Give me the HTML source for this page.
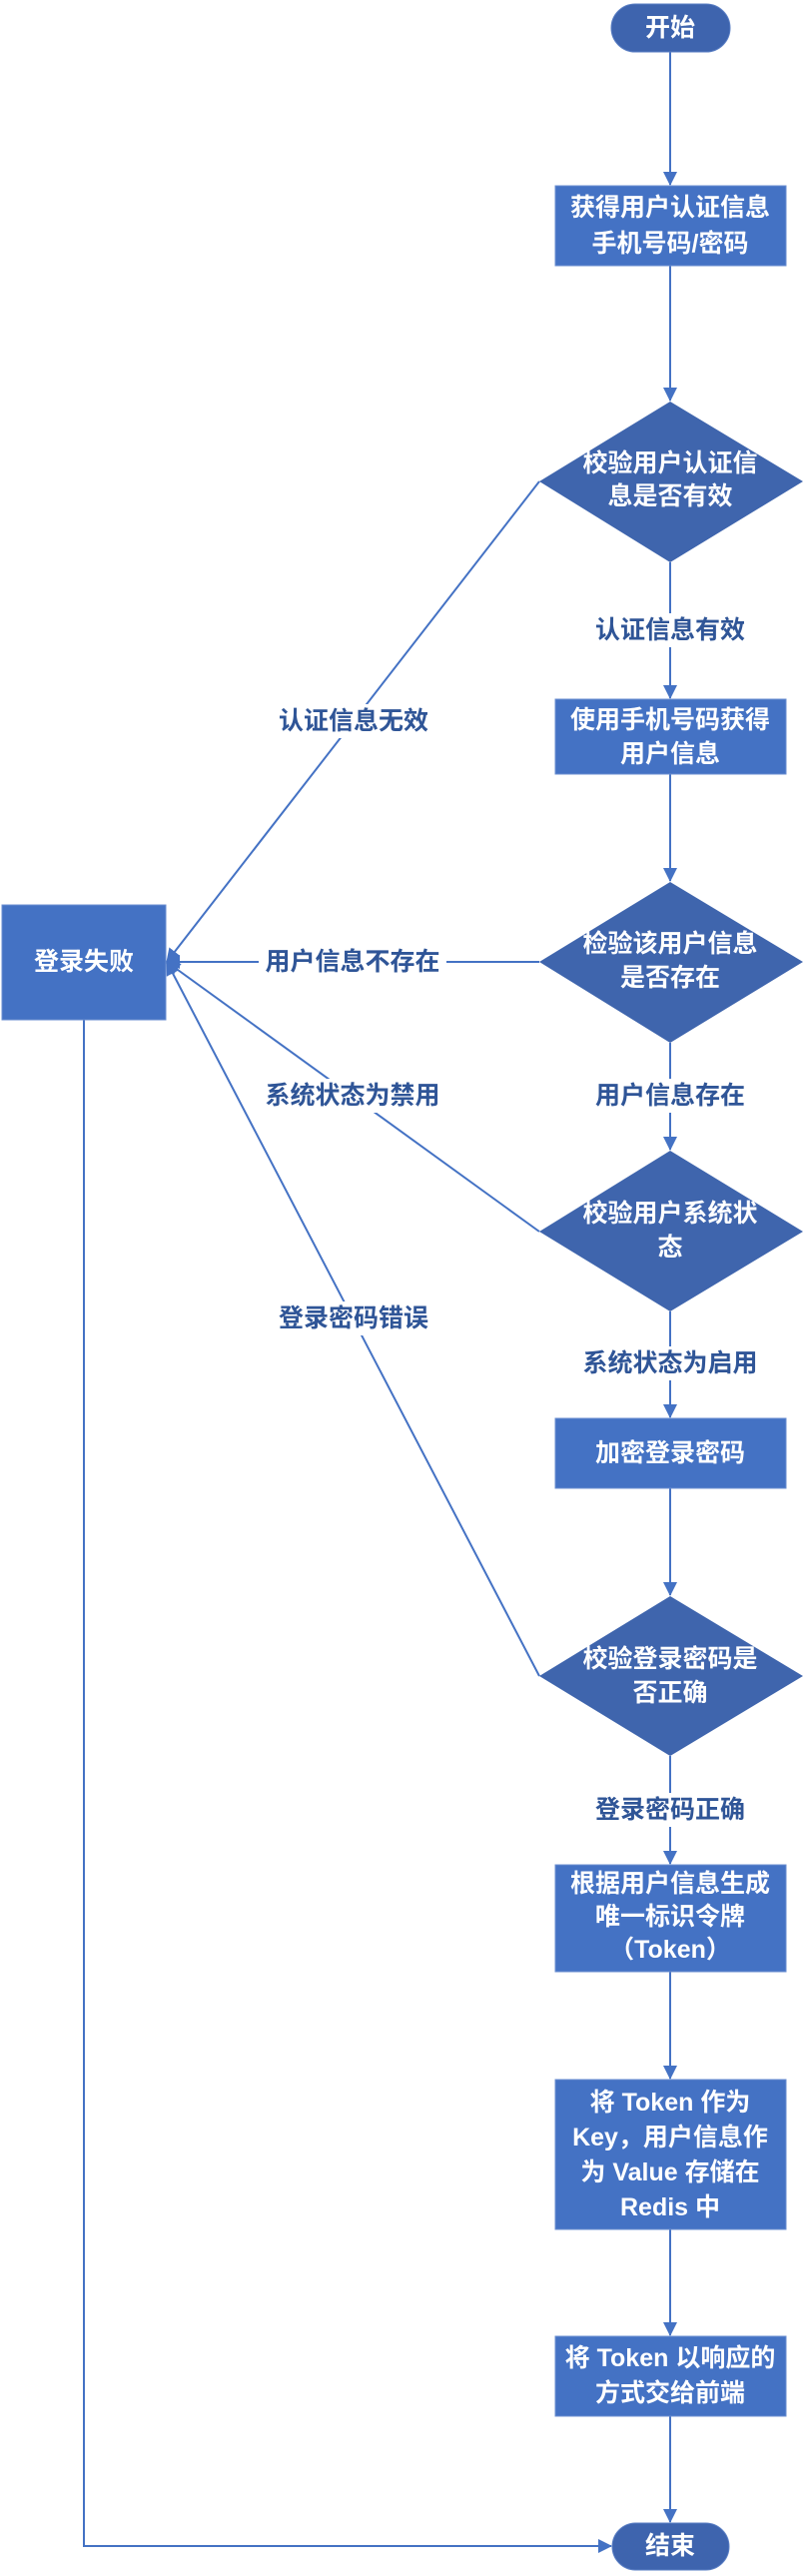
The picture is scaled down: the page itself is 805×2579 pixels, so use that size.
<!DOCTYPE html>
<html><head><meta charset="utf-8"><style>
html,body{margin:0;padding:0;background:#fff}
svg{display:block}
text{font-family:"Liberation Sans","Noto Sans CJK SC",sans-serif;font-weight:bold;font-size:25px;text-anchor:middle;dominant-baseline:central}
.w{fill:#fff}
.l{fill:#2F5597}
</style></head><body>
<svg width="805" height="2579" viewBox="0 0 805 2579" xmlns="http://www.w3.org/2000/svg">
<defs>
<marker id="a" markerWidth="10" markerHeight="10" refX="9" refY="5" orient="auto" markerUnits="userSpaceOnUse">
<path d="M0,0 L10,5 L0,10 z" fill="#4472C4"/></marker>
<marker id="b" markerWidth="14" markerHeight="14" refX="13" refY="7" orient="auto" markerUnits="userSpaceOnUse">
<path d="M0,0 L14,7 L0,14 z" fill="#4472C4"/></marker>
</defs>
<g stroke="#4472C4" stroke-width="2" fill="none">
<line x1="671" y1="52" x2="671" y2="185" marker-end="url(#b)"/>
<line x1="671" y1="266" x2="671" y2="401" marker-end="url(#b)"/>
<line x1="671" y1="563" x2="671" y2="699" marker-end="url(#b)"/>
<line x1="671" y1="775" x2="671" y2="882" marker-end="url(#b)"/>
<line x1="671" y1="1044" x2="671" y2="1151" marker-end="url(#b)"/>
<line x1="671" y1="1313" x2="671" y2="1419" marker-end="url(#b)"/>
<line x1="671" y1="1490" x2="671" y2="1597" marker-end="url(#b)"/>
<line x1="671" y1="1758" x2="671" y2="1866" marker-end="url(#b)"/>
<line x1="671" y1="1974" x2="671" y2="2081" marker-end="url(#b)"/>
<line x1="671" y1="2232" x2="671" y2="2338" marker-end="url(#b)"/>
<line x1="671" y1="2419" x2="671" y2="2525" marker-end="url(#b)"/>
<line x1="540" y1="482" x2="167" y2="963" marker-end="url(#b)"/>
<line x1="540" y1="963" x2="167" y2="963" marker-end="url(#b)"/>
<line x1="540" y1="1233" x2="167" y2="963" marker-end="url(#b)"/>
<line x1="540" y1="1678" x2="167" y2="963" marker-end="url(#b)"/>
<polyline points="84,1021 84,2549 612,2549" marker-end="url(#b)"/>
</g>
<!-- nodes -->
<rect x="612" y="4" width="119" height="48" rx="24" fill="#3E64AE" stroke="#5B7FC4" stroke-width="1"/>
<text class="w" x="671" y="28">开始</text>
<rect x="556" y="186" width="231" height="80" fill="#4472C4" stroke="#6A8ED0"/>
<text class="w" x="671" y="208">获得用户认证信息</text>
<text class="w" x="671" y="244">手机号码/密码</text>
<polygon points="671,402 804,482 671,563 540,482" fill="#3F65AD"/>
<text class="w" x="671" y="464">校验用户认证信</text>
<text class="w" x="671" y="497">息是否有效</text>
<rect x="556" y="700" width="231" height="75" fill="#4472C4" stroke="#6A8ED0"/>
<text class="w" x="671" y="721">使用手机号码获得</text>
<text class="w" x="671" y="755">用户信息</text>
<polygon points="671,883 804,963 671,1044 540,963" fill="#3F65AD"/>
<text class="w" x="671" y="945">检验该用户信息</text>
<text class="w" x="671" y="979">是否存在</text>
<polygon points="671,1152 804,1233 671,1313 540,1233" fill="#3F65AD"/>
<text class="w" x="671" y="1215">校验用户系统状</text>
<text class="w" x="671" y="1249">态</text>
<rect x="556" y="1420" width="231" height="70" fill="#4472C4" stroke="#6A8ED0"/>
<text class="w" x="671" y="1455">加密登录密码</text>
<polygon points="671,1598 804,1678 671,1758 540,1678" fill="#3F65AD"/>
<text class="w" x="671" y="1661">校验登录密码是</text>
<text class="w" x="671" y="1695">否正确</text>
<rect x="556" y="1867" width="231" height="107" fill="#4472C4" stroke="#6A8ED0"/>
<text class="w" x="671" y="1886">根据用户信息生成</text>
<text class="w" x="671" y="1919">唯一标识令牌</text>
<text class="w" x="671" y="1952">（Token）</text>
<rect x="556" y="2082" width="231" height="150" fill="#4472C4" stroke="#6A8ED0"/>
<text class="w" x="671" y="2105">将 Token 作为</text>
<text class="w" x="671" y="2140">Key，用户信息作</text>
<text class="w" x="671" y="2175">为 Value 存储在</text>
<text class="w" x="671" y="2210">Redis 中</text>
<rect x="556" y="2339" width="231" height="80" fill="#4472C4" stroke="#6A8ED0"/>
<text class="w" x="671" y="2361">将 Token 以响应的</text>
<text class="w" x="671" y="2396">方式交给前端</text>
<rect x="613" y="2526" width="117" height="47" rx="23.5" fill="#3E64AE" stroke="#5B7FC4" stroke-width="1"/>
<text class="w" x="671" y="2549">结束</text>
<rect x="2" y="906" width="164" height="115" fill="#4472C4" stroke="#6A8ED0"/>
<text class="w" x="84" y="963">登录失败</text>
<!-- labels -->
<g fill="#fff">
<rect x="590" y="614" width="162" height="34"/>
<rect x="274" y="705" width="160" height="34"/>
<rect x="259" y="946" width="188" height="34"/>
<rect x="590" y="1080" width="162" height="34"/>
<rect x="259" y="1080" width="188" height="34"/>
<rect x="274" y="1303" width="160" height="34"/>
<rect x="576" y="1348" width="190" height="34"/>
<rect x="590" y="1795" width="162" height="34"/>
</g>
<text class="l" x="671" y="631">认证信息有效</text>
<text class="l" x="354" y="722">认证信息无效</text>
<text class="l" x="353" y="963">用户信息不存在</text>
<text class="l" x="671" y="1097">用户信息存在</text>
<text class="l" x="353" y="1097">系统状态为禁用</text>
<text class="l" x="354" y="1320">登录密码错误</text>
<text class="l" x="671" y="1365">系统状态为启用</text>
<text class="l" x="671" y="1812">登录密码正确</text>
</svg>
</body></html>
